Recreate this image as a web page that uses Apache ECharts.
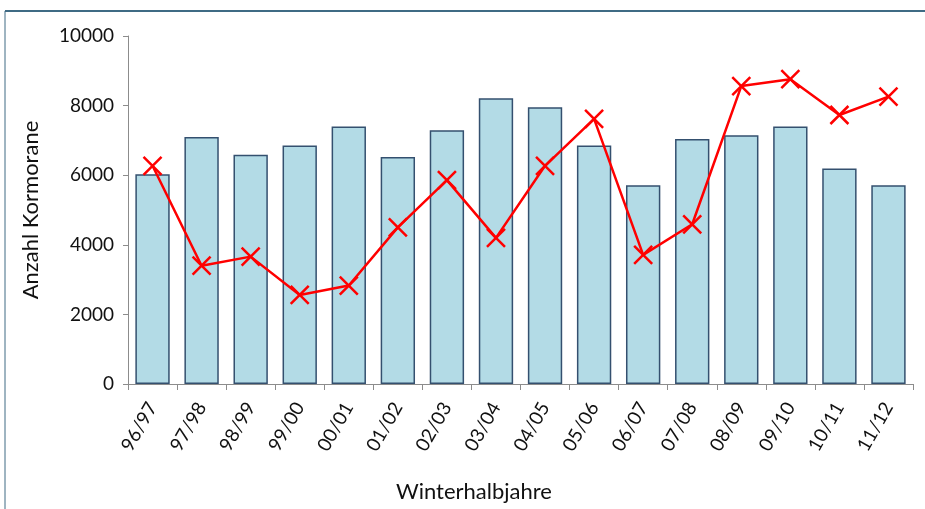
<!DOCTYPE html>
<html>
<head>
<meta charset="utf-8">
<style>
  html, body { margin: 0; padding: 0; background: #fff; }
  #chart { width: 925px; height: 509px; }
</style>
<script src="https://cdn.jsdelivr.net/npm/echarts@6/dist/echarts.min.js"></script>
</head>
<body>
<div id="chart"></div>
<script>
// Winterhalbjahre
const seasons = ['96/97', '97/98', '98/99', '99/00', '00/01', '01/02', '02/03', '03/04',
  '04/05', '05/06', '06/07', '07/08', '08/09', '09/10', '10/11', '11/12']
// Säulen
const barValues = [6030, 7100, 6590, 6850, 7400, 6520, 7290, 8210,
  7950, 6850, 5710, 7040, 7150, 7400, 6190, 5710]
// Linie (rote Kreuze)
const lineValues = [6270, 3400, 3660, 2560, 2830, 4500, 5860, 4200,
  6270, 7620, 3710, 4590, 8560, 8760, 7730, 8260]
const yTicks = { min: 0, max: 10000, interval: 2000 }

const font = 'Lato, "Open Sans", sans-serif'
const chart = echarts.init(document.getElementById('chart'))

const option = {
  animation: false,
  grid: { left: 128, right: 12, top: 36, bottom: 125 },
  //Rahmen oben und links
  graphic: [
    { type: 'line', shape: { x1: 5, y1: 11, x2: 925, y2: 11 }, style: { stroke: '#3f6b84', lineWidth: 2 } },
    { type: 'line', shape: { x1: 5, y1: 11, x2: 5, y2: 509 }, style: { stroke: '#3f6b84', lineWidth: 1 } },
    {
      type: 'text', left: 396, top: 481,
      style: { text: 'Winterhalbjahre', font: '22px ' + font, fill: '#111' },
    },
  ],
  xAxis: {
    type: 'category',
    data: seasons,
    axisLine: { lineStyle: { color: '#8c8c8c', width: 1 } },
    axisTick: { show: true, length: 6, lineStyle: { color: '#8c8c8c' } },
    axisLabel: { rotate: 60, fontSize: 19, fontFamily: font, color: '#111', margin: 20 },
  },
  yAxis: {
    type: 'value',
    min: yTicks.min,
    max: yTicks.max,
    interval: yTicks.interval,
    name: 'Anzahl Kormorane',
    nameLocation: 'middle',
    nameGap: 86,
    nameTextStyle: { fontSize: 22, fontFamily: font, color: '#111' },
    splitLine: { show: false },
    axisLine: { show: true, lineStyle: { color: '#8c8c8c', width: 1 } },
    axisTick: { show: true, length: 5, lineStyle: { color: '#8c8c8c' } },
    axisLabel: {
      fontSize: 19, fontFamily: font, color: '#111', margin: 14,
      formatter: (v) => String(v),
    },
  },
  series: [
    {
      type: 'bar',
      data: barValues,
      barCategoryGap: '30%',
      itemStyle: { color: '#b3dbe6', borderColor: '#34506f', borderWidth: 1.5 },
    },
    {
      type: 'line',
      data: lineValues,
      symbol: 'path://M0,0L10,10M10,0L0,10',
      symbolSize: 18,
      lineStyle: { color: '#ff0000', width: 2.5 },
      itemStyle: { color: '#ff0000', borderColor: '#ff0000', borderWidth: 2.5 },
    },
  ],
}

option && chart.setOption(option)
</script>
</body>
</html>
